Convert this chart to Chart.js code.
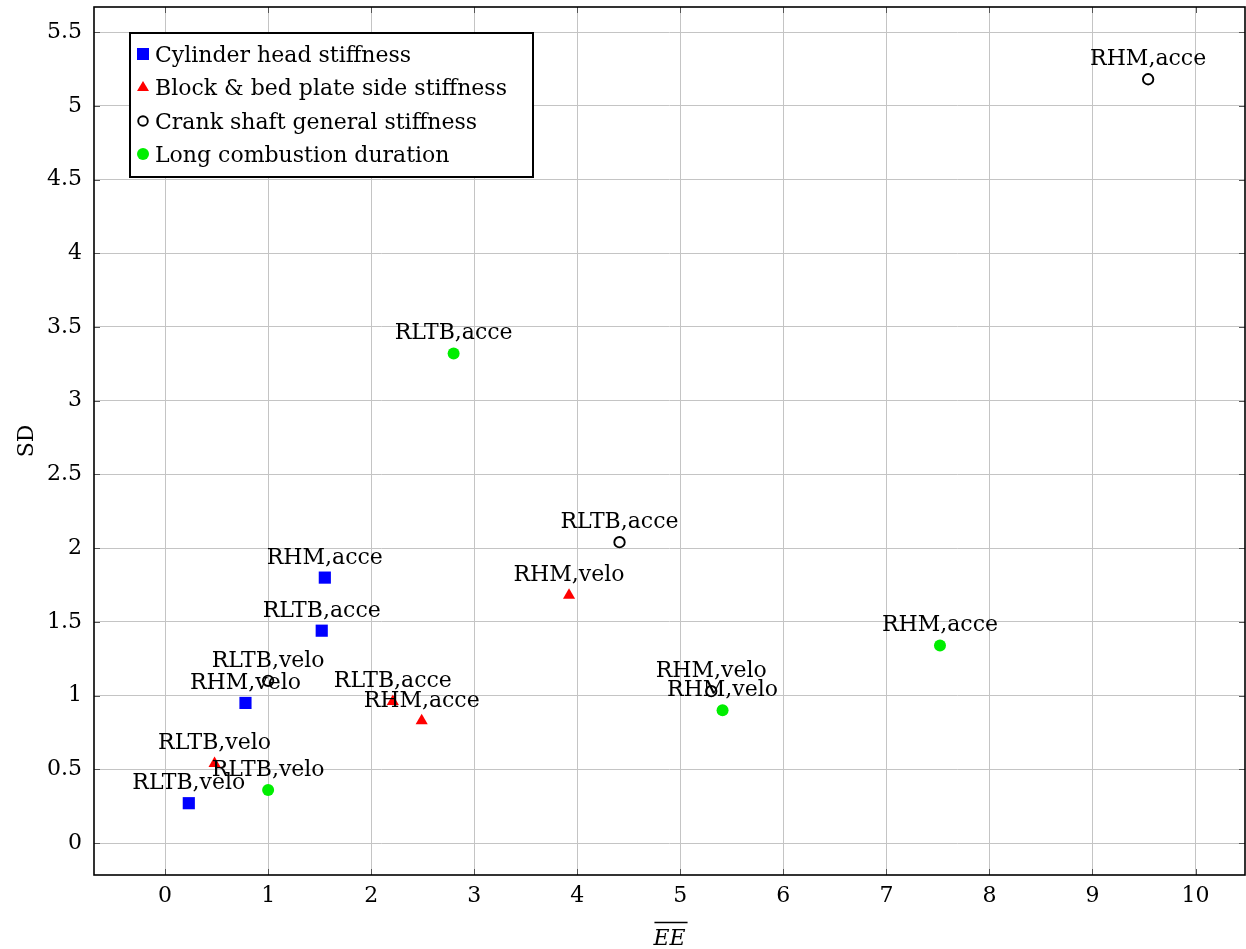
<!DOCTYPE html>
<html>
<head>
<meta charset="utf-8">
<script src="https://cdn.jsdelivr.net/npm/chart.js@4"></script>
<style>
  html, body { margin: 0; padding: 0; background: #fff; }
  #wrap { width: 1246px; height: 949px; }
</style>
</head>
<body>
<div id="wrap"><canvas id="c" width="1246" height="949"></canvas></div>
<script>
// Series data: [EE mean, SD] pairs with the label printed above each marker
const cylinderX = [0.23, 0.78, 1.52, 1.55];
const cylinderY = [0.27, 0.95, 1.44, 1.80];
const cylinderLabels = ['RLTB,velo', 'RHM,velo', 'RLTB,acce', 'RHM,acce'];

const blockX = [0.48, 2.21, 2.49, 3.92];
const blockY = [0.54, 0.96, 0.83, 1.68];
const blockLabels = ['RLTB,velo', 'RLTB,acce', 'RHM,acce', 'RHM,velo'];

const crankX = [1.00, 4.41, 5.30, 9.54];
const crankY = [1.10, 2.04, 1.03, 5.18];
const crankLabels = ['RLTB,velo', 'RLTB,acce', 'RHM,velo', 'RHM,acce'];

const combustionX = [1.00, 2.80, 5.41, 7.52];
const combustionY = [0.36, 3.32, 0.90, 1.34];
const combustionLabels = ['RLTB,velo', 'RLTB,acce', 'RHM,velo', 'RHM,acce'];

const seriesNames = ['Cylinder head stiffness', 'Block & bed plate side stiffness',
  'Crank shaft general stiffness', 'Long combustion duration'];

const xTickValues = [0, 1, 2, 3, 4, 5, 6, 7, 8, 9, 10];
const yTickValues = [0, 0.5, 1, 1.5, 2, 2.5, 3, 3.5, 4, 4.5, 5, 5.5];

const FONT = '"DejaVu Serif", "Liberation Serif", serif';
const FSIZE = 22;

function pts(xs, ys, labels) {
  return xs.map((x, i) => ({ x: x, y: ys[i], label: labels[i] }));
}

const datasets = [
  { label: seriesNames[0], data: pts(cylinderX, cylinderY, cylinderLabels),
    pointStyle: 'rect', pointRadius: 8.6, backgroundColor: '#0000ff', borderColor: '#0000ff', borderWidth: 0 },
  { label: seriesNames[1], data: pts(blockX, blockY, blockLabels),
    pointStyle: 'triangle', pointRadius: 7, backgroundColor: '#ff0000', borderColor: '#ff0000', borderWidth: 0 },
  { label: seriesNames[2], data: pts(crankX, crankY, crankLabels),
    pointStyle: 'circle', pointRadius: 5.2, backgroundColor: 'rgba(0,0,0,0)', borderColor: '#000000', borderWidth: 1.9 },
  { label: seriesNames[3], data: pts(combustionX, combustionY, combustionLabels),
    pointStyle: 'circle', pointRadius: 6, backgroundColor: '#00ee00', borderColor: '#00ee00', borderWidth: 0 }
];

// Frame, inner tick marks, point labels, legend box and axis titles
const decorations = {
  id: 'decorations',
  afterDatasetsDraw(chart) {
    const ctx = chart.ctx;
    const a = chart.chartArea;
    const xs = chart.scales.x, ys = chart.scales.y;
    ctx.save();

    // point labels
    ctx.font = FSIZE + 'px ' + FONT;
    ctx.fillStyle = '#000';
    ctx.textAlign = 'center';
    ctx.textBaseline = 'alphabetic';
    chart.data.datasets.forEach((ds, di) => {
      const meta = chart.getDatasetMeta(di);
      meta.data.forEach((el, i) => {
        ctx.fillText(ds.data[i].label, el.x, el.y - 14);
      });
    });

    // small inward tick marks on all four sides
    ctx.strokeStyle = '#555';
    ctx.lineWidth = 1;
    xTickValues.forEach(v => {
      const px = Math.round(xs.getPixelForValue(v)) + 0.5;
      ctx.beginPath();
      ctx.moveTo(px, a.bottom); ctx.lineTo(px, a.bottom - 6);
      ctx.moveTo(px, a.top); ctx.lineTo(px, a.top + 6);
      ctx.stroke();
    });
    yTickValues.forEach(v => {
      const py = Math.round(ys.getPixelForValue(v)) + 0.5;
      ctx.beginPath();
      ctx.moveTo(a.left, py); ctx.lineTo(a.left + 6, py);
      ctx.moveTo(a.right, py); ctx.lineTo(a.right - 6, py);
      ctx.stroke();
    });

    // frame
    ctx.strokeStyle = '#000';
    ctx.lineWidth = 1.6;
    ctx.strokeRect(a.left, a.top, a.right - a.left, a.bottom - a.top);

    // legend
    const lx = 130, ly = 33, lw = 403, lh = 144;
    ctx.fillStyle = '#fff';
    ctx.fillRect(lx, ly, lw, lh);
    ctx.strokeStyle = '#000';
    ctx.lineWidth = 2;
    ctx.strokeRect(lx, ly, lw, lh);
    ctx.font = FSIZE + 'px ' + FONT;
    ctx.textAlign = 'left';
    ctx.textBaseline = 'alphabetic';
    const rowY = [54, 87, 121, 154];
    const mx = 143;
    seriesNames.forEach((name, i) => {
      const cy = rowY[i];
      if (i === 0) {
        ctx.fillStyle = '#0000ff';
        ctx.fillRect(mx - 6, cy - 6, 12, 12);
      } else if (i === 1) {
        ctx.fillStyle = '#ff0000';
        ctx.beginPath();
        ctx.moveTo(mx, cy - 6); ctx.lineTo(mx + 6, cy + 4); ctx.lineTo(mx - 6, cy + 4);
        ctx.closePath(); ctx.fill();
      } else if (i === 2) {
        ctx.strokeStyle = '#000';
        ctx.lineWidth = 1.9;
        ctx.beginPath(); ctx.arc(mx, cy, 4.8, 0, Math.PI * 2); ctx.stroke();
      } else {
        ctx.fillStyle = '#00ee00';
        ctx.beginPath(); ctx.arc(mx, cy, 6, 0, Math.PI * 2); ctx.fill();
      }
      ctx.fillStyle = '#000';
      ctx.fillText(name, 155, cy + 8);
    });

    // axis titles
    ctx.font = 'italic ' + FSIZE + 'px ' + FONT;
    ctx.textAlign = 'center';
    const tx = (a.left + a.right) / 2;
    ctx.fillText('EE', tx, 945);
    const w = ctx.measureText('EE').width;
    ctx.lineWidth = 1.3;
    ctx.beginPath();
    ctx.moveTo(tx - w / 2 + 1, 922.5); ctx.lineTo(tx + w / 2 + 2, 922.5);
    ctx.stroke();

    ctx.font = FSIZE + 'px ' + FONT;
    ctx.translate(33, (a.top + a.bottom) / 2);
    ctx.rotate(-Math.PI / 2);
    ctx.fillText('SD', 0, 0);
    ctx.restore();
  }
};

function noPad(s) {
  s.paddingTop = 0; s.paddingBottom = 0; s.paddingLeft = 0; s.paddingRight = 0;
}

new Chart(document.getElementById('c'), {
  type: 'scatter',
  data: { datasets: datasets },
  options: {
    responsive: false,
    animation: false,
    layout: { autoPadding: false, padding: { top: 7, right: 1, left: 0, bottom: 0 } },
    plugins: { legend: { display: false }, tooltip: { enabled: false } },
    scales: {
      x: {
        type: 'linear',
        min: -0.69, max: 10.48,
        afterFit(s) { s.height = 74; noPad(s); },
        afterBuildTicks(s) { s.ticks = xTickValues.map(v => ({ value: v })); },
        ticks: { font: { family: FONT, size: FSIZE }, color: '#000', padding: 8,
                 callback: v => String(v) },
        grid: { color: '#c4c4c4', lineWidth: 1, drawTicks: false },
        border: { display: false }
      },
      y: {
        type: 'linear',
        min: -0.217, max: 5.67,
        afterFit(s) { s.width = 94; noPad(s); },
        afterBuildTicks(s) { s.ticks = yTickValues.map(v => ({ value: v })); },
        ticks: { font: { family: FONT, size: FSIZE }, color: '#000', padding: 12,
                 callback: v => String(v) },
        grid: { color: '#c4c4c4', lineWidth: 1, drawTicks: false },
        border: { display: false }
      }
    }
  },
  plugins: [decorations]
});
</script>
</body>
</html>
